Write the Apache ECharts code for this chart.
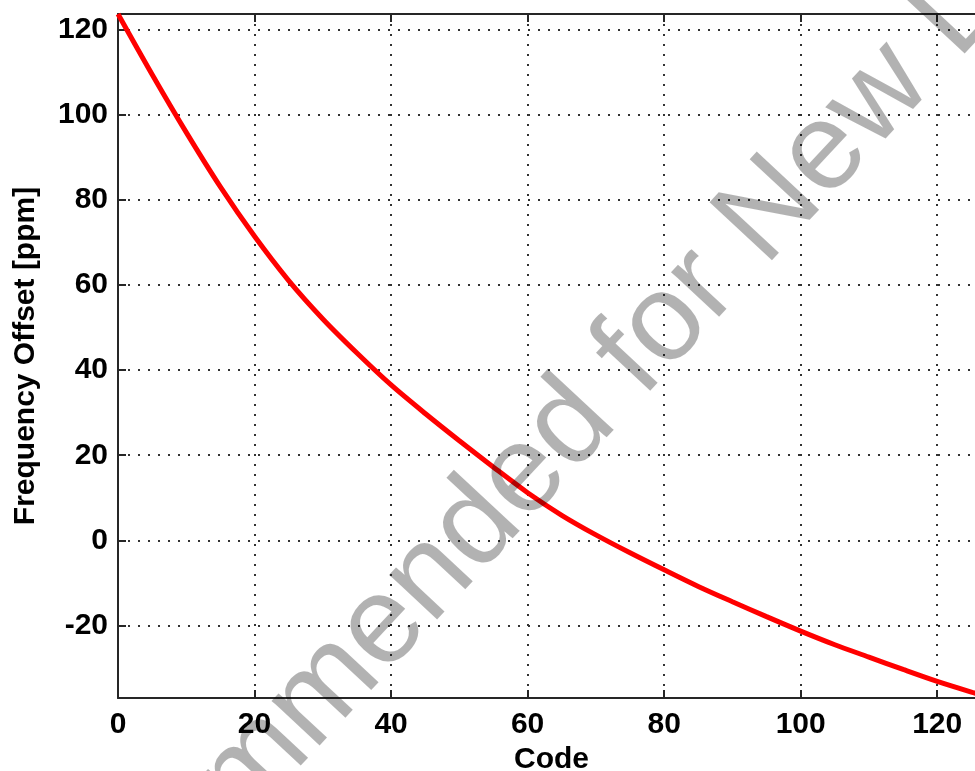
<!DOCTYPE html>
<html>
<head>
<meta charset="utf-8">
<script src="https://cdn.jsdelivr.net/npm/echarts@6/dist/echarts.min.js"></script>
<style>
html,body{margin:0;padding:0;background:#fff;}
#c{width:975px;height:771px;}
</style>
</head>
<body>
<div id="c"></div>
<script>
var codes   = [0, 5, 10, 15, 20, 25, 30, 35, 40, 45, 50, 55, 60, 65, 70, 75, 80, 85, 90, 95, 100, 105, 110, 115, 120, 125, 127];
var offsets = [123.6, 109.4, 95.8, 83.0, 71.4, 61.0, 52.0, 44.0, 36.5, 29.8, 23.4, 17.2, 11.2, 5.9, 1.3, -2.9, -6.9, -10.8, -14.4, -17.9, -21.3, -24.5, -27.4, -30.3, -33.1, -35.6, -36.5];
var xTitle = 'Code';
var yTitle = 'Frequency Offset [ppm]';
var watermark = 'Not Recommended for New Designs';

var FONT = '"Liberation Sans", Arial, Helvetica, sans-serif';
var chart = echarts.init(document.getElementById('c'));
var pts = codes.map(function (c, i) { return [c, offsets[i]]; });
var gridDots = { show: true, lineStyle: { color: '#333', width: 2, type: [2, 8] } };
var axLine = { show: true, onZero: false, lineStyle: { color: '#262626', width: 2 } };
var tick = { show: true, inside: true, length: 8, lineStyle: { color: '#262626', width: 2 } };

chart.setOption({
  animation: false,
  backgroundColor: '#fff',
  grid: { left: 118, top: 14, right: -10, bottom: 73, containLabel: false, outerBoundsMode: 'none' },
  xAxis: [{
    type: 'value', min: 0, max: 127, interval: 20, position: 'bottom',
    axisLine: axLine,
    axisTick: tick,
    axisLabel: { show: true, margin: 12, fontSize: 30, fontWeight: 'bold', color: '#000', fontFamily: FONT, showMaxLabel: false },
    splitLine: gridDots,
    name: xTitle, nameLocation: 'middle', nameGap: 45,
    nameTextStyle: { fontSize: 30, fontWeight: 'bold', color: '#000', fontFamily: FONT }
  }, {
    type: 'value', min: 0, max: 127, interval: 20, position: 'top',
    axisLine: axLine,
    axisTick: tick,
    axisLabel: { show: false },
    splitLine: { show: false }
  }],
  yAxis: [{
    type: 'value', min: -37, max: 123.6, splitNumber: 8, position: 'left',
    axisLine: axLine,
    axisTick: tick,
    axisLabel: { show: true, margin: 10, fontSize: 30, fontWeight: 'bold', color: '#000', fontFamily: FONT, showMinLabel: false, showMaxLabel: false },
    splitLine: gridDots,
    name: yTitle, nameLocation: 'middle', nameGap: 77, nameRotate: 90,
    nameTextStyle: { fontSize: 30, fontWeight: 'bold', color: '#000', fontFamily: FONT }
  }],
  series: [{
    type: 'line', data: pts, xAxisIndex: 0, yAxisIndex: 0,
    showSymbol: false, smooth: 0.3,
    lineStyle: { color: '#ff0000', width: 5 },
    z: 5
  }],
  graphic: [{
    type: 'text', z: 100, silent: true,
    x: 552, y: 446, rotation: 47 * Math.PI / 180,
    style: {
      text: watermark, fontSize: 124, fontFamily: FONT,
      fill: 'rgba(0,0,0,0.3)', align: 'center', verticalAlign: 'middle'
    }
  }]
});
</script>
</body>
</html>
